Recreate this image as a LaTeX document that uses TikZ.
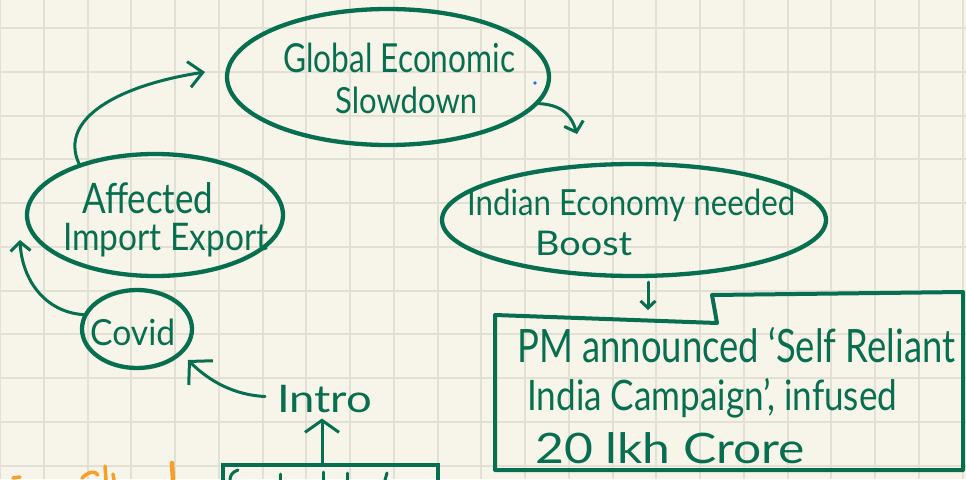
\documentclass[tikz,border=0pt]{standalone}
\usepackage{fontspec}
\usepackage{graphicx}
\setmainfont{Lato}
\usetikzlibrary{shapes.geometric,arrows.meta}
\definecolor{ink}{RGB}{8,110,80}
\definecolor{paper}{RGB}{247,245,234}
\definecolor{gridc}{RGB}{226,224,212}
\definecolor{hl}{RGB}{245,160,40}
\definecolor{dotblue}{RGB}{40,110,230}
\newcommand\hwtext[3]{\resizebox{#1pt}{\height}{\fontsize{#2}{#2}\selectfont #3}}
\begin{document}
\begin{tikzpicture}[x=1pt,y=-1pt,
  ell/.style={draw=ink,line width=4.3pt,ellipse,inner sep=0pt},
  lbl/.style={text=ink,inner sep=0pt,anchor=base west},
  con/.style={draw=ink,line width=3pt,line cap=round,line join=round},
  tipA/.style={-{Straight Barb[length=14pt,width=26pt]}},
  tipB/.style={-{Straight Barb[length=9pt,width=20pt]}},
  tipC/.style={-{Straight Barb[length=12pt,width=34pt]}},
  tipD/.style={-{Straight Barb[length=7pt,width=15pt]}},
  tipE/.style={-{Straight Barb[length=16pt,width=34pt]}},
]
\useasboundingbox (0,0) rectangle (966,479);
\fill[paper] (0,0) rectangle (966,479);
\begin{scope}
\clip (0,0) rectangle (966,479);
\foreach \i in {0,...,22} \draw[gridc,line width=2pt] (43.75*\i,0) -- (43.75*\i,479);
\foreach \j in {0,...,10} \draw[gridc,line width=2pt] (0,28+43.75*\j) -- (966,28+43.75*\j);

% ellipses
\node[ell,minimum width=322,minimum height=136] (glob) at (388,77) {};
\node[ell,minimum width=256,minimum height=122] (aff) at (155,215) {};
\node[ell,minimum width=110,minimum height=78] (cov) at (137,329) {};
\node[ell,minimum width=384,minimum height=112] (ind) at (634,220) {};

% texts
\node[lbl] (globt1) at (283,72) {\hwtext{232}{40}{Global Economic}};
\node[lbl] (globt2) at (335,113) {\hwtext{142}{36}{Slowdown}};
\node[lbl] (afft1) at (82,213) {\hwtext{131}{42}{Affected}};
\node[lbl] (afft2) at (63,250) {\hwtext{205}{38}{Import Export}};
\node[lbl] (covt) at (90,345) {\hwtext{85}{36}{Covid}};
\node[lbl] (indt1) at (467,215) {\hwtext{328}{36}{Indian Economy needed}};
\node[lbl] (indt2) at (535,255) {\hwtext{97}{34}{Boost}};
\node[lbl] (intro) at (277,412) {\hwtext{95}{38}{Intro}};
\node[lbl] (pm1) at (517,362) {\hwtext{438}{46}{PM announced ‘Self Reliant}};
\node[lbl] (pm2) at (527,410) {\hwtext{370}{42}{India Campaign’, infused}};
\node[lbl] (pm3) at (535,463) {\hwtext{270}{42}{20 lkh Crore}};

% PM box
\draw[ink,line width=4pt,line join=round,line cap=round]
  (495,315) -- (717,323) -- (712,295) -- (963,292) -- (963,470) -- (495,470) -- cycle;
\coordinate (pmtop) at (648,310);

% bottom box (cut off)
\node[draw=ink,line width=4pt,minimum width=215,minimum height=60,inner sep=0pt] (bot) at (330,495) {};

% connector end points
\coordinate (globin) at (205,72);
\coordinate (affin) at (20,240);
\coordinate (covin) at (188,360);
\coordinate (indin) at (577,134);

% connectors
\draw[con,tipA] (aff.146) .. controls (58,118) and (120,85) .. (globin);
\draw[con,tipB] (cov.165) .. controls (45,312) and (22,280) .. (affin);
\draw[con,tipE] ([xshift=-12pt,yshift=2pt]intro.west) .. controls (235,395) and (210,382) .. (covin);
\draw[con,tipC] ([xshift=-8pt]bot.north) -- ([xshift=-8pt,yshift=-6pt]intro.south -| bot.north);
\draw[con,tipB] (glob.-10) .. controls (565,105) and (572,118) .. (indin);
\draw[con,tipD] ([xshift=14pt,yshift=-4pt]ind.south) -- (pmtop);

% fragments at the bottom edge
\draw[hl,line width=3.5pt,line cap=round] (13,478) -- (20,477);
\draw[hl,line width=3.5pt,line cap=round] (82,478) .. controls (88,472) and (95,470) .. (98,475);
\draw[hl,line width=3.5pt,line cap=round] (105,466) -- (106,480);
\draw[hl,line width=3.5pt,line cap=round] (113,474) -- (114,480);
\draw[hl,line width=4.5pt,line cap=round] (172,463) -- (173,480);
\draw[ink,line width=3pt,line cap=round] (238,470) .. controls (232,472) and (230,476) .. (230,480);
\draw[ink,line width=3pt,line cap=round] (280,474) -- (280,480);
\draw[ink,line width=3pt,line cap=round] (323,472) -- (323,480);
\draw[ink,line width=3pt,line cap=round] (347,473) -- (347,480);
\draw[ink,line width=3pt,line cap=round] (387,473) -- (385,480);
\fill[dotblue] (535,83) circle (1.8);
\end{scope}
\end{tikzpicture}
\end{document}
